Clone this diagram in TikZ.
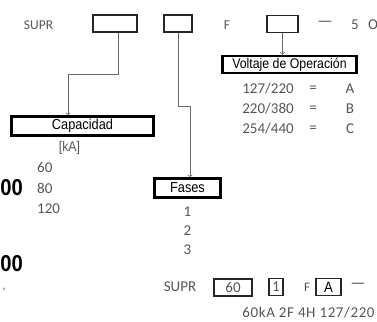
\documentclass[tikz,border=0pt]{standalone}
\usepackage{fontspec}
\setmainfont{Carlito}
\newfontfamily\condfont[FakeStretch=0.88]{Liberation Sans}
\usepackage{tikz}
\usepackage{xcolor}
\definecolor{textgray}{RGB}{85,85,85}
\definecolor{linegray}{RGB}{105,105,105}
\tikzset{
  codebox/.style={draw=black!85, line width=1.6pt, minimum height=17pt, inner sep=0pt},
  smallbox/.style={draw=black!85, line width=1.2pt, minimum height=17pt, inner sep=0pt, text=textgray, font=\fontsize{15}{15}\selectfont},
  titlebox/.style={draw=black, line width=2.6pt, inner sep=0pt, font=\condfont\fontsize{14.5}{14.5}\selectfont},
  graytext/.style={text=textgray, inner sep=0pt, font=\fontsize{15}{15}\selectfont},
  link/.style={->, linegray, line width=0.8pt},
}

\begin{document}
\begin{tikzpicture}[x=1pt, y=-1pt]
    \useasboundingbox (0,0) rectangle (377,321);

    % Code line
    \node[graytext, font=\fontsize{13.5}{13.5}\selectfont] (codesupr) at (38.5,25) {SUPR};
    \node[codebox, minimum width=44pt] (supbox1) at (115,23.5) {};
    \node[codebox, minimum width=28pt] (supbox2) at (178,23.5) {};
    \node[graytext, font=\fontsize{13.5}{13.5}\selectfont] (codef) at (227,25) {F};
    \node[codebox, minimum width=31pt] (supbox3) at (282.5,24) {};
    \node[graytext, font=\fontsize{17}{17}\selectfont] (codedash) at (325,24) {—};
    \node[graytext] (codefive) at (355,25) {5};
    \node[graytext] (codeo) at (373,25) {O};

    % Capacidad
    \node[titlebox, minimum width=142pt, minimum height=19pt] (capbox) at (82.5,126) {Capacidad};
    \node[graytext, font=\condfont\fontsize{14}{14}\selectfont] (capunit) at (69.5,148) {[kA]};
    \node[graytext, anchor=west] (cap60) at (37,167) {60};
    \node[graytext, anchor=west] (cap80) at (37,188) {80};
    \node[graytext, anchor=west] (cap120) at (37,209) {120};
    \draw[link] ([xshift=3pt]supbox1.south) -- ++(0,42) -| ([xshift=-14.5pt]capbox.north);

    % Fases
    \node[titlebox, minimum width=66pt, minimum height=19pt] (fasesbox) at (187.5,188) {Fases};
    \node[graytext] (fase1) at (187.5,212) {1};
    \node[graytext] (fase2) at (187.5,231) {2};
    \node[graytext] (fase3) at (187.5,250) {3};
    \draw[link] (supbox2.south) -- ++(0,74) -| ([xshift=2.5pt]fasesbox.north);

    % Voltaje de Operacion
    \node[titlebox, minimum width=134pt, minimum height=17pt, font=\condfont\fontsize{14}{14}\selectfont] (voltbox) at (289.5,64.5) {Voltaje de Operación};
    \foreach \v/\l/\y in {{127/220}/A/89, {220/380}/B/109, {254/440}/C/129}{
        \node[graytext] (volt\l) at (268,\y) {\v};
        \node[graytext] (eq\l) at (313,\y) {=};
        \node[graytext] (let\l) at (350,\y) {\l};
    }
    \draw[link] (supbox3.south) -- (supbox3.south |- voltbox.north);

    % Cut text at the left edge
    \node[anchor=east, inner sep=0pt, font=\condfont\bfseries\fontsize{23}{23}\selectfont] (cutone) at (23,188) {00};
    \node[anchor=east, inner sep=0pt, font=\condfont\bfseries\fontsize{23}{23}\selectfont] (cuttwo) at (23,264) {00};
    \node[graytext, font=\fontsize{12}{12}\selectfont] (cutcomma) at (4,290) {,};

    % Example
    \node[graytext] (exsupr) at (180,287) {SUPR};
    \node[smallbox, minimum width=38pt] (exbox1) at (233,287.5) {60};
    \node[smallbox, minimum width=14pt] (exbox2) at (276,287) {1};
    \node[graytext, font=\fontsize{13}{13}\selectfont] (exf) at (307,287) {F};
    \node[smallbox, minimum width=25pt, text=black, font=\condfont\fontsize{15}{15}\selectfont] (exbox3) at (328.5,287) {A};
    \node[graytext, font=\fontsize{17}{17}\selectfont] (exdash) at (358,286) {—};
    \node[graytext, font=\addfontfeature{LetterSpace=4}\fontsize{15}{15}\selectfont] (excaption) at (308.5,313) {60kA 2F 4H 127/220};
\end{tikzpicture}
\end{document}
